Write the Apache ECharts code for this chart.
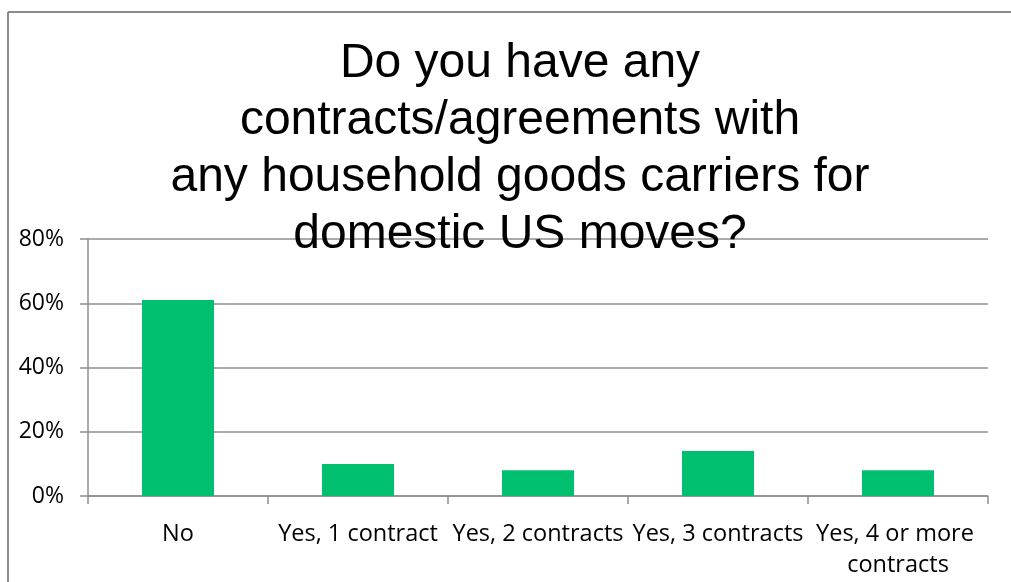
<!DOCTYPE html>
<html>
<head>
<meta charset="utf-8">
<script src="https://cdn.jsdelivr.net/npm/echarts@6/dist/echarts.min.js"></script>
<style>
  html, body { margin: 0; padding: 0; background: #fff; }
  #chart { width: 1011px; height: 582px; }
</style>
</head>
<body>
<div id="chart"></div>
<script>
// Survey answers and share of respondents
const categories = ['No', 'Yes, 1 contract', 'Yes, 2 contracts', 'Yes, 3 contracts', 'Yes, 4 or more contracts'];
const shares = [0.61, 0.10, 0.08, 0.14, 0.08];
const yTicks = { min: 0, max: 0.8, interval: 0.2 };
const titleLines = [
  'Do you have any',
  'contracts/agreements with',
  'any household goods carriers for',
  'domestic US moves?'
];

const gridColor = '#8f8f8f';
const frameColor = '#8c8c8c';
const labelFont = "'Open Sans', 'Noto Sans', sans-serif";

const chart = echarts.init(document.getElementById('chart'));
chart.setOption({
  backgroundColor: '#ffffff',
  animation: false,
  // outer chart frame (top and left edges)
  graphic: [
    {
      type: 'line',
      shape: { x1: 8, y1: 12, x2: 1011, y2: 12 },
      style: { stroke: frameColor, lineWidth: 2 },
      silent: true
    },
    {
      type: 'line',
      shape: { x1: 8, y1: 12, x2: 8, y2: 582 },
      style: { stroke: frameColor, lineWidth: 2 },
      silent: true
    }
  ],
  title: {
    text: titleLines.join('\n'),
    left: 515,
    top: 30,
    textAlign: 'center',
    textStyle: {
      fontFamily: "'Liberation Sans', Arial, sans-serif",
      fontSize: 48,
      fontWeight: 'normal',
      color: '#000',
      lineHeight: 57
    },
    z: 10
  },
  grid: { left: 88, right: 23, top: 239, bottom: 86 },
  xAxis: {
    type: 'category',
    data: categories,
    axisLine: { lineStyle: { color: gridColor, width: 1.5 } },
    axisTick: { show: true, length: 8, alignWithLabel: false, lineStyle: { color: gridColor, width: 1.5 } },
    axisLabel: {
      interval: 0,
      margin: 23,
      width: 179,
      overflow: 'break',
      lineHeight: 31,
      fontFamily: labelFont,
      fontSize: 23.5,
      color: '#000'
    }
  },
  yAxis: {
    type: 'value',
    min: yTicks.min,
    max: yTicks.max,
    interval: yTicks.interval,
    axisLine: { show: true, lineStyle: { color: gridColor, width: 1.5 } },
    axisTick: { show: true, length: 8, lineStyle: { color: gridColor, width: 1.5 } },
    splitLine: { lineStyle: { color: gridColor, width: 1.5 } },
    axisLabel: {
      margin: 24,
      fontFamily: labelFont,
      fontSize: 23,
      color: '#000',
      formatter: v => Math.round(v * 100) + '%'
    }
  },
  series: [{
    type: 'bar',
    data: shares,
    barCategoryGap: '60%',
    itemStyle: { color: '#00BF6F' }
  }]
});
</script>
</body>
</html>
